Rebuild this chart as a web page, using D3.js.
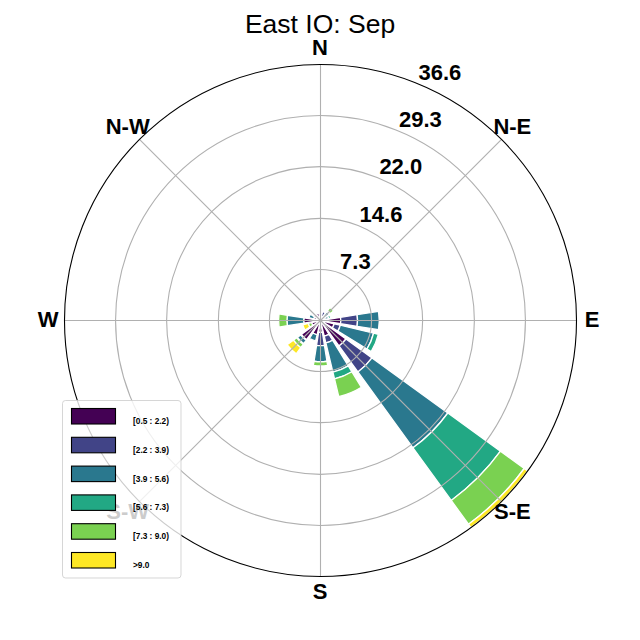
<!DOCTYPE html>
<html>
<head>
  <meta charset="utf-8">
  <title>East IO: Sep</title>
  <style>
    html, body { margin: 0; padding: 0; background: #fff; }
    text { font-family: "Liberation Sans", Arial, sans-serif; }
  </style>
</head>
<body>
  <div id="chart"></div>
  <script src="https://d3js.org/d3.v7.min.js"></script>
  <script type="text/javascript">
    var titleText = "East IO: Sep";
    var compassLabels = ["N", "N-E", "E", "S-E", "S", "S-W", "W", "N-W"];
    var radialTicks = [7.3, 14.6, 22.0, 29.3, 36.6];
    var binLabels = ["[0.5 : 2.2)", "[2.2 : 3.9)", "[3.9 : 5.6)", "[5.6 : 7.3)", "[7.3 : 9.0)", ">9.0"];
    var binColors = ["#440154", "#414487", "#2a788e", "#22a884", "#7ad151", "#fde725"];

    // percent per direction, N going clockwise, 16 sectors
    var bin1 = [1.0, 0.6, 0.4, 0.4, 2.9, 2.0, 4.5, 2.3, 1.7, 2.1, 3.4, 1.3, 2.4, 1.0, 1.1, 1.1];
    var bin2 = [0.0, 0.7, 0.4, 0.3, 2.4, 0.9, 4.6, 1.0, 1.9, 0.0, 0.1, 0.0, 0.0, 0.0, 0.0, 0.0];
    var bin3 = [0.0, 0.0, 0.7, 0.5, 3.1, 4.9, 13.4, 4.3, 2.3, 0.9, 0.6, 0.0, 2.4, 0.7, 0.0, 0.0];
    var bin4 = [0.0, 0.0, 0.2, 0.3, 0.0, 0.7, 9.3, 1.0, 0.0, 0.0, 0.1, 0.0, 0.0, 0.0, 0.0, 0.0];
    var bin5 = [0.0, 0.0, 0.6, 0.0, 0.0, 0.0, 4.2, 2.6, 0.6, 0.0, 0.6, 0.5, 1.2, 0.0, 0.0, 0.0];
    var bin6 = [0.0, 0.0, 0.0, 0.0, 0.0, 0.0, 0.6, 0.0, 0.0, 0.0, 1.1, 0.8, 0.0, 0.0, 0.0, 0.0];
    var bins = [bin1, bin2, bin3, bin4, bin5, bin6];

    var w = 640;
    var h = 640;
    var cx = 320.5;
    var cy = 320.5;
    var R = 256;
    var nsector = bin1.length;
    var opening = 0.8;

    var svg = d3.select("#chart")
      .append("svg")
      .attr("width", w)
      .attr("height", h)
      .style("display", "block");

    var r = d3.scaleLinear().domain([0, 36.6]).range([0, R]);
    var sector = d3.scaleLinear().domain([0, nsector]).range([0, 2 * Math.PI]);
    var compass = d3.scaleLinear().domain([0, compassLabels.length]).range([0, 2 * Math.PI]);
    var arc = d3.arc();

    var g = svg.append("g").attr("transform", "translate(" + cx + "," + cy + ")");

    // stacked wedges
    var stacked = [];
    d3.range(nsector).forEach(function(i) {
      var base = 0;
      bins.forEach(function(bin, b) {
        if (bin[i] > 0) {
          stacked.push({ dir: i, bin: b, y0: base, y1: base + bin[i] });
        }
        base += bin[i];
      });
    });

    var half = sector(1) * opening / 2;
    g.selectAll("path.bar")
      .data(stacked)
      .enter()
      .append("path")
      .attr("class", "bar")
      .attr("d", function(d) {
        return arc({
          innerRadius: r(d.y0),
          outerRadius: r(d.y1),
          startAngle: sector(d.dir) - half,
          endAngle: sector(d.dir) + half
        });
      })
      .attr("fill", function(d) { return binColors[d.bin]; })
      .attr("stroke", "#fff")
      .attr("stroke-width", 1.3);

    // grid goes over the bars
    g.selectAll("circle.ring")
      .data(radialTicks.slice(0, -1))
      .enter()
      .append("circle")
      .attr("class", "ring")
      .attr("r", function(d) { return r(d); })
      .attr("fill", "none")
      .attr("stroke", "#b0b0b0")
      .attr("stroke-width", 1.1);

    g.selectAll("line.spoke")
      .data(compassLabels)
      .enter()
      .append("line")
      .attr("class", "spoke")
      .attr("x2", function(d, i) { return R * Math.sin(compass(i)); })
      .attr("y2", function(d, i) { return -R * Math.cos(compass(i)); })
      .attr("stroke", "#b0b0b0")
      .attr("stroke-width", 1.1);

    g.append("circle")
      .attr("r", R)
      .attr("fill", "none")
      .attr("stroke", "#000")
      .attr("stroke-width", 1.1);

    g.selectAll("text.compass")
      .data(compassLabels)
      .enter()
      .append("text")
      .attr("class", "compass")
      .attr("x", function(d, i) { return (R + 16) * Math.sin(compass(i)) - 0.5; })
      .attr("y", function(d, i) { return -(R + 16) * Math.cos(compass(i)) - 1.8; })
      .attr("text-anchor", "middle")
      .attr("dy", "0.36em")
      .attr("font-size", 22)
      .attr("font-weight", "bold")
      .attr("fill", "#000")
      .text(function(d) { return d; });

    // radial labels sit along 22.5 deg
    var labelAngle = sector(1);
    g.selectAll("text.rtick")
      .data(radialTicks)
      .enter()
      .append("text")
      .attr("class", "rtick")
      .attr("x", function(d) { return r(d) * Math.sin(labelAngle); })
      .attr("y", function(d) { return -r(d) * Math.cos(labelAngle) - 4; })
      .attr("font-size", 22)
      .attr("font-weight", "bold")
      .attr("fill", "#000")
      .text(function(d) { return d.toFixed(1); });

    svg.append("text")
      .attr("x", 320)
      .attr("y", 33)
      .attr("text-anchor", "middle")
      .attr("font-size", 26.5)
      .attr("fill", "#000")
      .text(titleText);

    // legend
    var legend = svg.append("g");
    legend.append("rect")
      .attr("x", 62.5)
      .attr("y", 400.5)
      .attr("width", 118.5)
      .attr("height", 177.5)
      .attr("rx", 3)
      .attr("fill", "#fff")
      .attr("fill-opacity", 0.8)
      .attr("stroke", "#ccc")
      .attr("stroke-opacity", 0.8)
      .attr("stroke-width", 1);

    var rowY = d3.scaleLinear().domain([0, binLabels.length - 1]).range([408.5, 552.5]);

    legend.selectAll("rect.key")
      .data(binLabels)
      .enter()
      .append("rect")
      .attr("class", "key")
      .attr("x", 71.5)
      .attr("y", function(d, i) { return rowY(i); })
      .attr("width", 44)
      .attr("height", 15.5)
      .attr("fill", function(d, i) { return binColors[i]; })
      .attr("stroke", "#000")
      .attr("stroke-width", 1.1);

    legend.selectAll("text.key")
      .data(binLabels)
      .enter()
      .append("text")
      .attr("class", "key")
      .attr("x", 133)
      .attr("y", function(d, i) { return rowY(i) + 15.5; })
      .attr("font-size", 8.3)
      .attr("font-weight", "bold")
      .attr("fill", "#000")
      .text(function(d) { return d; });
  </script>
</body>
</html>
